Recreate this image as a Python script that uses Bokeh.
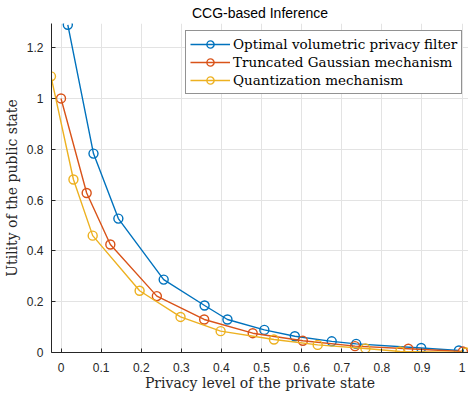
from bokeh.plotting import figure
from bokeh.models import Range1d, FixedTicker, Legend, LegendItem
from bokeh.embed import file_html
from bokeh.resources import INLINE

# ---- data ----
opt_x = [0.017, 0.081, 0.143, 0.256, 0.358, 0.415, 0.507, 0.583, 0.675, 0.736, 0.898, 0.992]
opt_y = [1.290, 0.783, 0.527, 0.287, 0.185, 0.130, 0.089, 0.064, 0.044, 0.034, 0.018, 0.008]

tg_x = [0.000, 0.064, 0.123, 0.239, 0.357, 0.478, 0.603, 0.733, 0.866, 1.002]
tg_y = [1.000, 0.628, 0.425, 0.222, 0.130, 0.076, 0.046, 0.025, 0.015, 0.004]

qz_x = [-0.025, 0.031, 0.079, 0.196, 0.298, 0.398, 0.531, 0.640, 0.759, 0.846, 1.010]
qz_y = [1.087, 0.681, 0.460, 0.243, 0.140, 0.084, 0.051, 0.030, 0.016, 0.004, 0.000]

series_names = ["Optimal volumetric privacy filter",
                "Truncated Gaussian mechanism",
                "Quantization mechanism"]
series_colors = ["#0072BD", "#D95319", "#EDB120"]

x_ticks = [0, 0.1, 0.2, 0.3, 0.4, 0.5, 0.6, 0.7, 0.8, 0.9, 1.0]
x_tick_labels = ["0", "0.1", "0.2", "0.3", "0.4", "0.5", "0.6", "0.7", "0.8", "0.9", "1"]
y_ticks = [0, 0.2, 0.4, 0.6, 0.8, 1.0, 1.2]
y_tick_labels = ["0", "0.2", "0.4", "0.6", "0.8", "1", "1.2"]

title_text = "CCG-based Inference"
x_label = "Privacy level of the private state"
y_label = "Utility of the public state"

SERIF = "DejaVu Serif"

# ---- figure ----
p = figure(frame_width=417, frame_height=329, output_backend="svg", toolbar_location=None,
           x_range=Range1d(-0.0237, 1.016), y_range=Range1d(0, 1.295),
           min_border_left=44, min_border_right=0, min_border_top=19, min_border_bottom=0)
p.title.text = title_text
p.title.text_font = "Liberation Sans"
p.title.text_font_size = "14px"
p.title.text_font_style = "normal"
p.title.align = "center"
p.title.text_color = "#000000"
p.title.standoff = 5
p.title.offset = 0

p.outline_line_color = None
p.background_fill_color = "white"
p.border_fill_color = "white"

for ax in (p.xaxis[0], p.yaxis[0]):
    ax.axis_line_color = "#262626"
    ax.major_tick_line_color = "#262626"
    ax.major_tick_in = 4
    ax.major_tick_out = 0
    ax.minor_tick_line_color = None
    ax.major_label_text_font = "Liberation Sans"
    ax.major_label_text_font_size = "12px"
    ax.major_label_text_color = "#262626"
    ax.axis_label_text_font = SERIF
    ax.axis_label_text_font_size = "14px"
    ax.axis_label_text_font_style = "normal"
    ax.axis_label_text_color = "#262626"

p.xaxis.ticker = FixedTicker(ticks=x_ticks)
p.xaxis.major_label_overrides = {t: l for t, l in zip(x_ticks, x_tick_labels)}
p.yaxis.ticker = FixedTicker(ticks=y_ticks)
p.yaxis.major_label_overrides = {t: l for t, l in zip(y_ticks, y_tick_labels)}
p.xaxis.axis_label = x_label
p.yaxis.axis_label = y_label
p.xaxis.major_label_standoff = 10
p.yaxis.major_label_standoff = 8
p.xaxis.axis_label_standoff = 0
p.yaxis.axis_label_standoff = 4

p.xgrid.grid_line_color = "#e3e3e3"
p.ygrid.grid_line_color = "#e3e3e3"

items = []
for xs, ys, name, col in zip([opt_x, tg_x, qz_x], [opt_y, tg_y, qz_y], series_names, series_colors):
    r1 = p.line(xs, ys, line_color=col, line_width=1.4)
    r2 = p.scatter(xs, ys, marker="circle", size=9, line_color=col, line_width=1.4,
                   fill_color=None)
    items.append(LegendItem(label=name, renderers=[r1, r2]))

legend = Legend(items=items, location=(134, 258))
legend.label_text_font = SERIF
legend.label_text_font_size = "13.5px"
legend.label_text_color = "#000000"
legend.border_line_color = "#262626"
legend.border_line_width = 1
legend.background_fill_alpha = 1
legend.glyph_width = 40
legend.glyph_height = 18
legend.label_height = 18
legend.spacing = 0
legend.padding = 4
legend.margin = 0
legend.label_standoff = 3
p.add_layout(legend, "center")

open("out.html", "w").write(file_html(p, INLINE))
